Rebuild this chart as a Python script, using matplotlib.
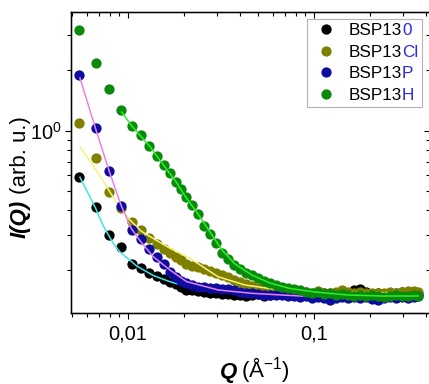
import matplotlib
matplotlib.use("Agg")
import matplotlib.pyplot as plt
from matplotlib.ticker import LogLocator, NullFormatter, FixedLocator, FixedFormatter
from matplotlib.offsetbox import TextArea, HPacker

plt.rcParams["font.family"] = ["Liberation Sans", "DejaVu Sans"]
plt.rcParams["mathtext.fontset"] = "custom"
plt.rcParams["mathtext.rm"] = "Liberation Sans"
plt.rcParams["mathtext.it"] = "Liberation Sans:italic"
plt.rcParams["mathtext.bf"] = "Liberation Sans:bold"

# scattering vector (1/A), shared by all samples
q = [0.005484, 0.00673, 0.007955, 0.0092, 0.01048, 0.01174, 0.01305, 0.01432,
     0.01561, 0.01682, 0.01812, 0.01927,
     0.0205, 0.02209, 0.02378, 0.02563, 0.0276, 0.02972, 0.03201, 0.03448,
     0.03714, 0.04002, 0.0431, 0.04642, 0.04999, 0.05384, 0.05799, 0.06246,
     0.0673, 0.07248, 0.07806, 0.08408, 0.09057, 0.09754, 0.1051, 0.1132,
     0.1219, 0.1313, 0.1414, 0.1524, 0.1641, 0.1768, 0.1904, 0.205, 0.2209,
     0.2378, 0.2563, 0.276, 0.2972, 0.3201, 0.3448, 0.3623]

i_0 = [0.585, 0.413, 0.301, 0.261, 0.2155, 0.206, 0.195, 0.188, 0.181, 0.176, 0.171, 0.165,
       0.160, 0.159, 0.158, 0.156, 0.154, 0.1535, 0.1526, 0.1517, 0.150, 0.151,
       0.149, 0.151, 0.1526, 0.149, 0.151, 0.1526, 0.154, 0.151, 0.1526, 0.154,
       0.151, 0.1526, 0.156, 0.154, 0.151, 0.1526, 0.154, 0.1526, 0.160, 0.1616,
       0.156, 0.1526, 0.154, 0.151, 0.1526, 0.154, 0.156, 0.1526, 0.154, 0.1526]
i_cl = [1.093, 0.726, 0.4955, 0.4107, 0.3495, 0.3188, 0.2907, 0.2713, 0.2547, 0.2432, 0.2328, 0.2244,
        0.2155, 0.2118, 0.2082, 0.2046, 0.1988, 0.1943, 0.1899, 0.1845, 0.1792, 0.1751,
        0.171, 0.1673, 0.1644, 0.1616, 0.1598, 0.1589, 0.157, 0.1561, 0.1561, 0.1552,
        0.1561, 0.1543, 0.158, 0.1552, 0.1543, 0.1561, 0.1598, 0.1561, 0.1543, 0.1561,
        0.1543, 0.1552, 0.1543, 0.1543, 0.1561, 0.1543, 0.1561, 0.158, 0.158, 0.1561]
i_p = [1.892, 1.032, 0.631, 0.4217, 0.3188, 0.2864, 0.2562, 0.2336, 0.2155, 0.1965, 0.1845, 0.1782,
       0.1722, 0.1692, 0.1663, 0.1654, 0.1644, 0.1626, 0.1616, 0.1607, 0.1598, 0.157,
       0.1552, 0.1535, 0.1526, 0.1508, 0.1508, 0.150, 0.1508, 0.1491, 0.1483, 0.1474,
       0.1491, 0.1457, 0.1474, 0.1457, 0.1423, 0.1457, 0.1474, 0.1457, 0.1474, 0.1457,
       0.1474, 0.144, 0.1423, 0.1457, 0.1474, 0.1457, 0.1474, 0.1457, 0.1474, 0.1491]
i_h = [3.189, 2.188, 1.616, 1.269, 1.056, 0.946, 0.839, 0.747, 0.670, 0.611, 0.556, 0.511,
       0.4634, 0.425, 0.3833, 0.3338, 0.306, 0.2729, 0.2432, 0.227, 0.2131, 0.2035,
       0.1954, 0.1888, 0.1834, 0.1772, 0.1722, 0.1692, 0.1654, 0.1626, 0.1607, 0.1589,
       0.157, 0.1552, 0.1561, 0.1526, 0.1535, 0.1508, 0.1517, 0.150, 0.1491, 0.1508,
       0.1483, 0.150, 0.1491, 0.1474, 0.1491, 0.150, 0.1483, 0.1491, 0.150, 0.1491]

# model fits
fit_0_q = [0.00552, 0.0067, 0.00737, 0.00831, 0.00906, 0.01114, 0.01368, 0.01682, 0.02069, 0.0276, 0.0453]
fit_0_i = [0.585, 0.4093, 0.3338, 0.2744, 0.2474, 0.2106, 0.1888, 0.1758, 0.166, 0.1598, 0.1543]
fit_cl_q = [0.00552, 0.00673, 0.00768, 0.00884, 0.01025, 0.01174, 0.01363, 0.01682, 0.02154,
            0.03047, 0.04256, 0.06565, 0.1219, 0.3623]
fit_cl_i = [0.8318, 0.636, 0.5248, 0.425, 0.3577, 0.3151, 0.2897, 0.2582, 0.2301,
            0.1862, 0.1692, 0.1598, 0.1561, 0.1543]
fit_p_q = [0.00552, 0.00673, 0.007955, 0.00917, 0.01038, 0.01174, 0.01368, 0.01682, 0.02069,
           0.03059, 0.04632, 0.08408, 0.3623]
fit_p_i = [1.834, 1.008, 0.6218, 0.425, 0.3262, 0.2776, 0.2344, 0.2011, 0.1758,
           0.1598, 0.1538, 0.1491, 0.1474]
fit_h_q = [0.00925, 0.01048, 0.01313, 0.01561, 0.01812, 0.0205, 0.02378, 0.0276, 0.03201,
           0.0376, 0.04632, 0.05799, 0.0743, 0.1013, 0.1524, 0.2312, 0.3623]
fit_h_i = [1.24, 1.056, 0.8318, 0.6683, 0.556, 0.4634, 0.3833, 0.3115, 0.2533,
           0.2155, 0.1899, 0.1731, 0.1626, 0.1561, 0.1508, 0.1491, 0.1491]

suffixes = ["0", "Cl", "P", "H"]

series = [
    (i_0, fit_0_q, fit_0_i, "#000000", "#3ee6ee"),
    (i_cl, fit_cl_q, fit_cl_i, "#808000", "#f6f27c"),
    (i_p, fit_p_q, fit_p_i, "#0c0ca0", "#ea80ea"),
    (i_h, fit_h_q, fit_h_i, "#0a8a0a", "#2cf02c"),
]

fig = plt.figure(figsize=(4.29, 3.84), dpi=100)
ax = fig.add_axes([71 / 429, 71 / 384, 359 / 429, 301 / 384])

handles = []
for vals, fq, fi, c, lc in series:
    h, = ax.plot(q, vals, "o", ms=7.4, mew=0, color=c)
    ax.plot(fq, fi, "-", lw=1.1, color=lc)
    handles.append(h)

ax.set_xscale("log")
ax.set_yscale("log")
ax.set_xlim(0.00494, 0.4204)
ax.set_ylim(0.1226, 3.92)

minor_subs = [2, 3, 4, 5, 6, 7, 8, 9]
ax.xaxis.set_major_locator(FixedLocator([0.01, 0.1]))
ax.xaxis.set_major_formatter(FixedFormatter(["0,01", "0,1"]))
ax.xaxis.set_minor_locator(LogLocator(base=10, subs=minor_subs, numticks=20))
ax.xaxis.set_minor_formatter(NullFormatter())
ax.yaxis.set_minor_locator(LogLocator(base=10, subs=minor_subs, numticks=20))
ax.yaxis.set_minor_formatter(NullFormatter())
ax.tick_params(which="both", direction="out", width=0.8, labelsize=14.5)
ax.tick_params(which="major", length=4.5)
ax.tick_params(which="minor", length=3)
ax.tick_params(axis="x", pad=4)
ax.tick_params(axis="y", pad=2)
for sp in ax.spines.values():
    sp.set_linewidth(1.0)

# mirrored ticks on top and right
axr = ax.twinx()
axr.set_yscale("log")
axr.set_ylim(ax.get_ylim())
axr.yaxis.set_minor_locator(LogLocator(base=10, subs=minor_subs, numticks=20))
axr.yaxis.set_minor_formatter(NullFormatter())
axr.tick_params(axis="y", which="both", direction="in", width=0.8, labelright=False)
axr.tick_params(axis="y", which="major", length=4)
axr.tick_params(axis="y", which="minor", length=3)

axt = ax.twiny()
axt.set_xscale("log")
axt.set_xlim(ax.get_xlim())
axt.xaxis.set_major_locator(FixedLocator([0.01, 0.1]))
axt.xaxis.set_minor_locator(LogLocator(base=10, subs=minor_subs, numticks=20))
axt.xaxis.set_minor_formatter(NullFormatter())
axt.tick_params(axis="x", which="both", direction="in", width=0.8, labeltop=False)
axt.tick_params(axis="x", which="major", length=4)
axt.tick_params(axis="x", which="minor", length=3)

leg_fs = 12.3
leg = ax.legend(handles, ["BSP13"] * 4, loc="upper right",
                bbox_to_anchor=(0.9777, 0.9767), borderaxespad=0, fancybox=False,
                edgecolor="#a0a0a0", fontsize=leg_fs, handlelength=1.8,
                handletextpad=0.45, labelspacing=0.4, borderpad=0.22)
leg.get_frame().set_linewidth(0.8)
# blue suffix appended to each legend label
items = [it for col in leg._legend_handle_box.get_children() for it in col.get_children()]
for it, s in zip(items, suffixes):
    tbox = it.get_children()[1]
    extra = TextArea(s, textprops=dict(color="#2a2ae0", fontsize=leg_fs))
    pack = HPacker(children=[tbox, extra], sep=0, pad=0, align="baseline")
    it._children[1] = pack
    pack.set_figure(fig)

# axis labels built from pieces (bold italic symbol + plain unit)
qx = fig.text(220 / 429, 6 / 384, "Q", fontsize=16, weight="bold", style="italic",
              ha="left", va="baseline")
ax.annotate("(Å$^{-1}$)", xy=(1, 6 / 384), xycoords=(qx, "figure fraction"),
            xytext=(3, 0), textcoords="offset points", ha="left", va="baseline",
            fontsize=16, annotation_clip=False)

iy = fig.text(26 / 429, (384 - 237.7) / 384, "I(Q)", fontsize=16, weight="bold",
              style="italic", rotation=90, rotation_mode="anchor", ha="left", va="baseline")
ax.annotate("(arb. u.)", xy=(26 / 429, 1), xycoords=("figure fraction", iy),
            xytext=(0, 4), textcoords="offset points", rotation=90,
            rotation_mode="anchor", ha="left", va="baseline", fontsize=16,
            annotation_clip=False)

fig.savefig("out.png", dpi=100)
